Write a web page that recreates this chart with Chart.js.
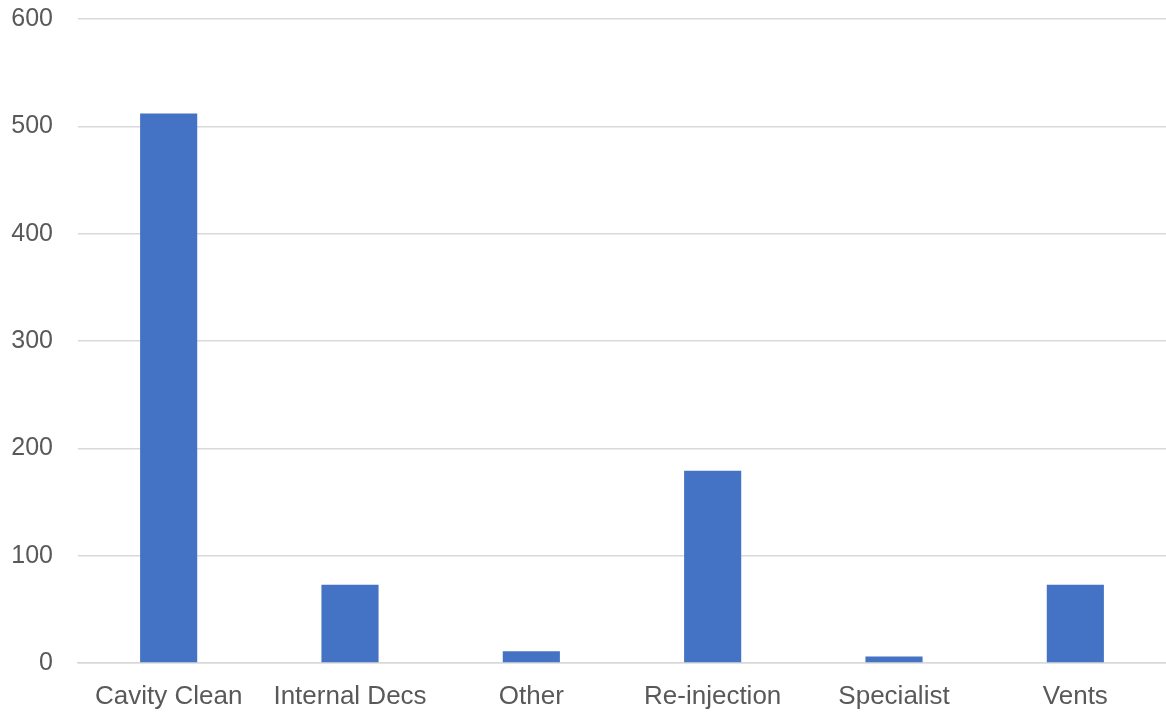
<!DOCTYPE html>
<html>
<head>
<meta charset="utf-8">
<script src="https://cdn.jsdelivr.net/npm/chart.js@4"></script>
<style>
html,body{margin:0;padding:0;background:#fff;}
#wrap{width:1166px;height:713px;position:relative;}
</style>
</head>
<body>
<div id="wrap"><canvas id="c" width="1166" height="713"></canvas></div>
<script>
const categories = ["Cavity Clean", "Internal Decs", "Other", "Re-injection", "Specialist", "Vents"];
const values = [512, 73, 11, 179, 6, 73];
const yTicks = [0, 100, 200, 300, 400, 500, 600];

new Chart(document.getElementById('c'), {
  type: 'bar',
  data: {
    labels: categories,
    datasets: [{
      data: values,
      backgroundColor: '#4472C4',
      borderWidth: 0,
      barPercentage: 0.63,
      categoryPercentage: 0.5
    }]
  },
  options: {
    responsive: false,
    animation: false,
    devicePixelRatio: 1,
    layout: { padding: { top: 19, right: 0, left: 0, bottom: 0 } },
    plugins: { legend: { display: false }, tooltip: { enabled: false } },
    scales: {
      x: {
        grid: { display: false, drawTicks: false },
        border: { display: true, color: '#d9d9d9', width: 1.5 },
        ticks: { color: '#595959', font: { family: 'Liberation Sans', size: 26 }, padding: 18, maxRotation: 0, autoSkip: false },
        afterFit: (s) => { s.height = 50; s.paddingLeft = 0; s.paddingRight = 0; }
      },
      y: {
        min: 0, max: 600,
        afterBuildTicks: (s) => { s.ticks = yTicks.map(v => ({ value: v })); },
        grid: { color: '#d9d9d9', lineWidth: 1.5, drawTicks: false },
        border: { display: false },
        ticks: { color: '#595959', font: { family: 'Liberation Sans', size: 25 }, padding: 25 },
        afterFit: (s) => { s.width = 78; s.paddingTop = 0; s.paddingBottom = 0; }
      }
    }
  }
});
</script>
</body>
</html>
